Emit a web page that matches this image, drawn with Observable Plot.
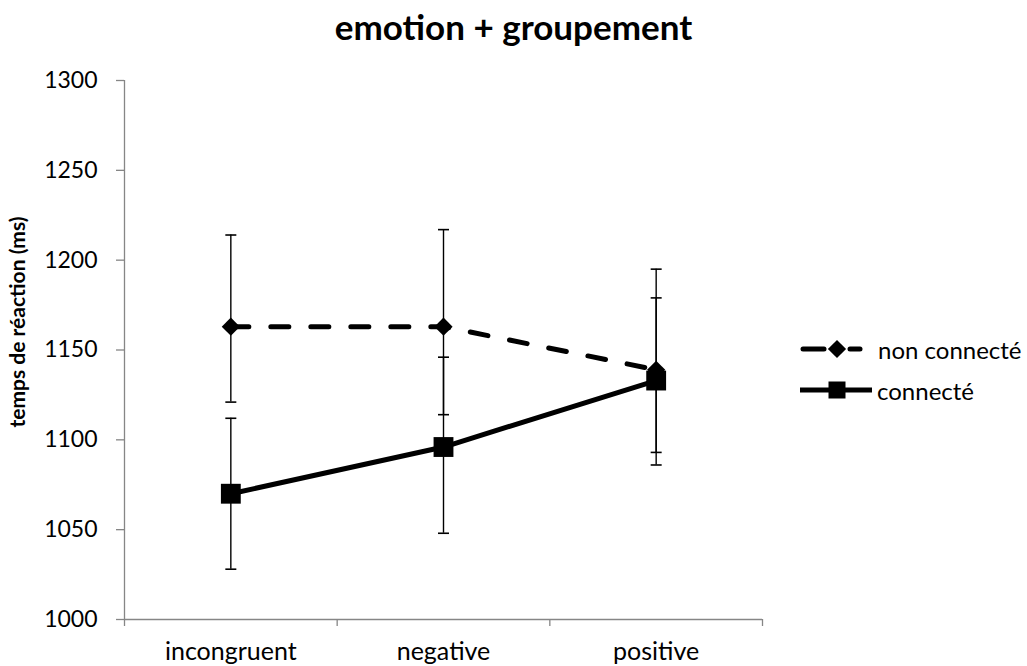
<!DOCTYPE html>
<html>
<head>
<meta charset="utf-8">
<script src="https://cdn.jsdelivr.net/npm/d3@7"></script>
<script src="https://cdn.jsdelivr.net/npm/@observablehq/plot@0.6"></script>
<style>
  body { margin: 0; background: #fff; font-family: Lato, "Open Sans", sans-serif; }
  #wrap { position: relative; width: 1027px; height: 666px; overflow: hidden; }
  #title { height: 56px; line-height: 52px; text-align: center; font-weight: bold; font-size: 35px; color: #000; }
  .leg { position: absolute; display: flex; align-items: center; font-size: 24px; color: #000; white-space: nowrap; }
</style>
</head>
<body>
<div id="wrap">
  <div id="title">emotion + groupement</div>
  <div id="chart"></div>
</div>
<script>
const categories = ["incongruent", "negative", "positive"];
const seriesNames = ["non connecté", "connecté"];
const nonConnecteMean = [1163, 1163, 1139];
const nonConnecteLow  = [1121, 1114, 1086];
const nonConnecteHigh = [1214, 1217, 1195];
const connecteMean = [1070, 1096, 1133];
const connecteLow  = [1028, 1048, 1093];
const connecteHigh = [1112, 1146, 1179];
const yTicks = [1000, 1050, 1100, 1150, 1200, 1250, 1300];
const yTitle = "temps de réaction (ms)";

const nonRows = categories.map((c, i) => ({cat: c, i, series: seriesNames[0], mean: nonConnecteMean[i], lo: nonConnecteLow[i], hi: nonConnecteHigh[i]}));
const conRows = categories.map((c, i) => ({cat: c, i, series: seriesNames[1], mean: connecteMean[i], lo: connecteLow[i], hi: connecteHigh[i]}));
const allRows = nonRows.concat(conRows);

const capSymbol = {draw(ctx) { ctx.moveTo(-5.5, 0); ctx.lineTo(5.5, 0); }};
const xPos = d => d.i + 0.5;
const axisGray = "#868686";

const chart = Plot.plot({
  width: 1027,
  height: 610,
  marginTop: 24,
  marginBottom: 47,
  marginLeft: 124,
  marginRight: 265,
  style: {fontFamily: "Lato, 'Open Sans', sans-serif", background: "#fff", color: "#000"},
  x: {type: "linear", domain: [0, categories.length], axis: null},
  y: {domain: [yTicks[0], yTicks[yTicks.length - 1]], axis: null},
  marks: [
    Plot.axisY({ticks: yTicks, tickSize: 8, tickPadding: 19, stroke: axisGray, strokeWidth: 1.3, fill: "#000", fontSize: 23, tickFormat: d => String(d), label: null}),
    Plot.axisX({ticks: d3.range(categories.length + 1), tickSize: 7, stroke: axisGray, strokeWidth: 1.3, tickFormat: () => "", label: null}),
    Plot.axisX({ticks: categories.map((c, i) => i + 0.5), tickSize: 0, tickPadding: 23, fill: "#000", fontSize: 25, tickFormat: v => categories[Math.floor(v)], label: null}),
    Plot.ruleX([0], {stroke: axisGray, strokeWidth: 1.3}),
    Plot.ruleY([yTicks[0]], {stroke: axisGray, strokeWidth: 1.3}),
    Plot.text([yTitle], {frameAnchor: "left", textAnchor: "middle", rotate: -90, dx: -106, dy: -28, fontWeight: "bold", fontSize: 21, fill: "#000"}),
    // error bars
    Plot.ruleX(allRows, {x: xPos, y1: "lo", y2: "hi", stroke: "#000", strokeWidth: 1.4}),
    Plot.dot(allRows, {x: xPos, y: "lo", symbol: capSymbol, fill: "none", stroke: "#000", strokeWidth: 1.6}),
    Plot.dot(allRows, {x: xPos, y: "hi", symbol: capSymbol, fill: "none", stroke: "#000", strokeWidth: 1.6}),
    // non connecté
    Plot.line(nonRows, {x: xPos, y: "mean", stroke: "#000", strokeWidth: 5, strokeDasharray: "18,22", strokeLinecap: "round"}),
    Plot.dot(nonRows, {x: xPos, y: "mean", symbol: "diamond2", r: 8.2, fill: "#000", stroke: "none"}),
    // connecté
    Plot.line(conRows, {x: xPos, y: "mean", stroke: "#000", strokeWidth: 5}),
    Plot.dot(conRows, {x: xPos, y: "mean", symbol: "square", r: 11.2, fill: "#000", stroke: "none"})
  ]
});
document.getElementById("chart").appendChild(chart);

// legend
const wrap = d3.select("#wrap");
const legItems = [
  {name: seriesNames[0], top: 339, dashed: true},
  {name: seriesNames[1], top: 380, dashed: false}
];
legItems.forEach(it => {
  const div = wrap.append("div").attr("class", "leg").style("left", "800px").style("top", it.top + "px").style("height", "20px");
  const svg = div.append("svg").attr("width", it.dashed ? 78 : 77).attr("height", 20).style("overflow", "visible");
  if (it.dashed) {
    svg.append("line").attr("x1", 3).attr("x2", 24).attr("y1", 10).attr("y2", 10).attr("stroke", "#000").attr("stroke-width", 5).attr("stroke-linecap", "round");
    svg.append("line").attr("x1", 50).attr("x2", 60).attr("y1", 10).attr("y2", 10).attr("stroke", "#000").attr("stroke-width", 5).attr("stroke-linecap", "round");
    svg.append("path").attr("transform", "translate(37,10)").attr("d", d3.symbol(d3.symbolDiamond2, Math.PI * 8.2 * 8.2)()).attr("fill", "#000");
  } else {
    svg.append("line").attr("x1", 0).attr("x2", 72).attr("y1", 10).attr("y2", 10).attr("stroke", "#000").attr("stroke-width", 5);
    svg.append("rect").attr("x", 28.5).attr("y", 1.5).attr("width", 17).attr("height", 17).attr("fill", "#000");
  }
  div.append("span").text(it.name);
});
</script>
</body>
</html>
